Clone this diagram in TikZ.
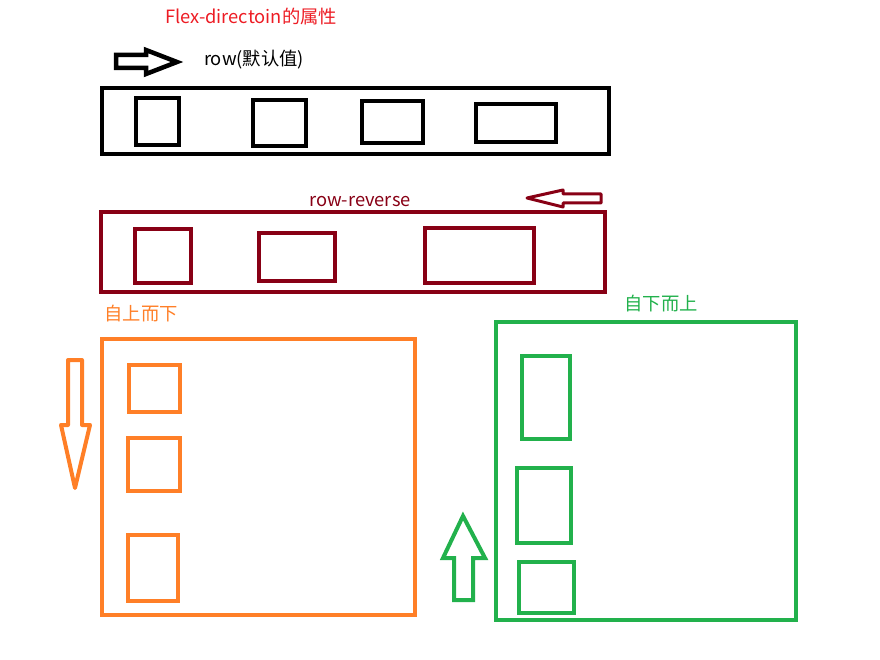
\documentclass[tikz,border=0pt]{standalone}
\usepackage{fontspec}
\setmainfont{Noto Sans CJK SC}
\definecolor{pred}{HTML}{ED1C24}
\definecolor{dred}{HTML}{880015}
\definecolor{orng}{HTML}{FF7F27}
\definecolor{grn}{HTML}{22B14C}
\begin{document}
\begin{tikzpicture}[x=1pt,y=-1pt,
  box/.style={line width=4pt},
  lbl/.style={inner sep=0pt,font=\fontsize{18.3}{20}\selectfont}]
\useasboundingbox (0,0) rectangle (880,660);
% title
\node[lbl,text=pred] (title) at (251,17) {Flex-directoin的属性};
% row
\node[lbl] (rowlbl) at (254,60) {row(默认值)};
\draw[line width=4.5pt,line join=miter] (116,55) -- (146,55) -- (146,50) -- (177,62) -- (146,74) -- (146,68) -- (116,68) -- cycle;
\draw[box,line width=4.5pt] (102,88) rectangle (609,154);
\draw[box] (136,98) rectangle (179,145);
\draw[box] (253,100) rectangle (306,146);
\draw[box] (362,101) rectangle (423,143);
\draw[box] (476,104) rectangle (556,142);
% row-reverse
\node[lbl,text=dred] (revlbl) at (360,202) {row-reverse};
\draw[dred,line width=3pt,line join=round] (527,198) -- (563,190) -- (563,194) -- (601,194) -- (601,203) -- (563,203) -- (563,207) -- cycle;
\begin{scope}[dred]
\draw[box] (101,212) rectangle (605,292);
\draw[box] (135,229) rectangle (191,283);
\draw[box] (259,233) rectangle (335,281);
\draw[box] (425,228) rectangle (534,283);
\end{scope}
% column
\node[lbl,text=orng] (collbl) at (141,314) {自上而下};
\begin{scope}[orng]
\draw[line width=4pt,line join=round] (68,360) -- (82,360) -- (82,425) -- (90,425) -- (75,488) -- (61,425) -- (68,425) -- cycle;
\draw[box] (102,339) rectangle (415,615);
\draw[box] (129,365) rectangle (180,412);
\draw[box] (128,438) rectangle (180,491);
\draw[box] (128,535) rectangle (178,601);
\end{scope}
% column-reverse
\node[lbl,text=grn] (crlbl) at (661,304) {自下而上};
\begin{scope}[grn]
\draw[line width=4pt] (463,516) -- (485,558) -- (473,558) -- (473,600) -- (454,600) -- (454,558) -- (443,558) -- cycle;
\draw[box] (496,322) rectangle (796,620);
\draw[box] (522,356) rectangle (570,439);
\draw[box] (517,468) rectangle (571,543);
\draw[box] (519,562) rectangle (574,613);
\end{scope}
\end{tikzpicture}
\end{document}
